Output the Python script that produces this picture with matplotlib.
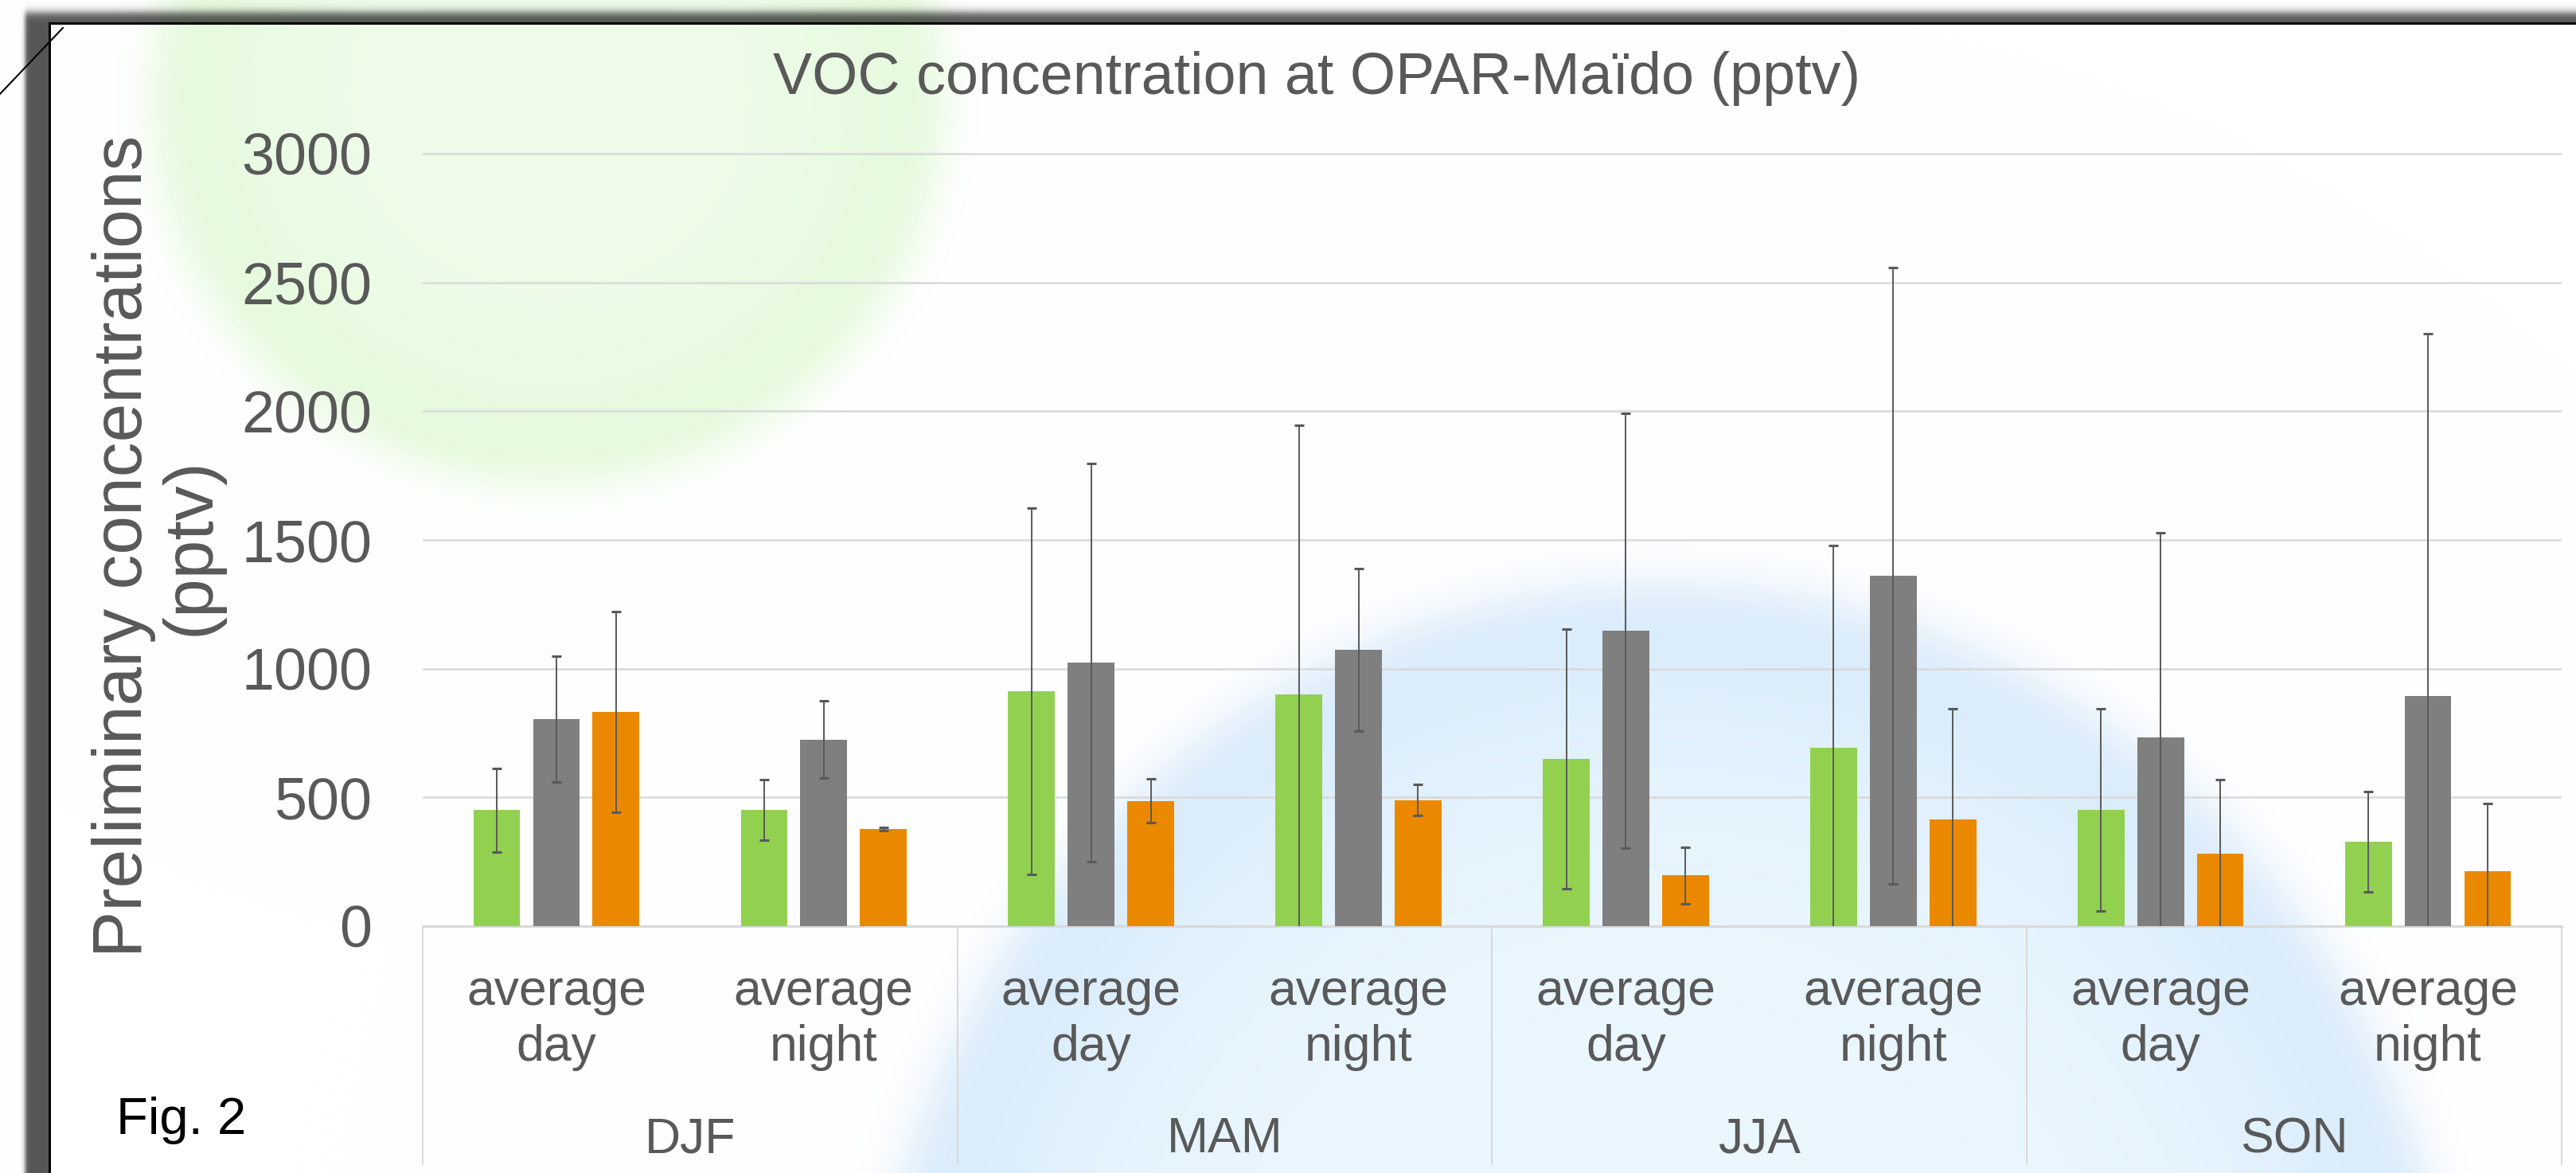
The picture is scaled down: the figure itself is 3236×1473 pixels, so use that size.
import numpy as np
import matplotlib.pyplot as plt
import matplotlib.transforms as mtransforms
from matplotlib.lines import Line2D

# data (pptv)
seasons = ['DJF', 'MAM', 'JJA', 'SON']
periods = ['average\nday', 'average\nnight']
green_vals = [451, 451, 913, 900, 650, 693, 452, 328]
green_err = [162, 117, 711, 1045, 504, 785, 393, 194]
gray_vals = [804, 724, 1025, 1074, 1148, 1361, 734, 895]
gray_err = [245, 150, 773, 316, 845, 1197, 795, 1405]
orange_vals = [831, 378, 486, 490, 197, 413, 282, 212]
orange_err = [390, 6, 85, 59, 109, 431, 287, 264]

W, H, DPI = 3237, 1473, 100
TXT = '#595959'
plt.rcParams['font.family'] = ['Liberation Sans', 'DejaVu Sans']

fig = plt.figure(figsize=(W / DPI, H / DPI), dpi=DPI)

# background: two pale bubbles + dark frame (drawn as an image)
yy, xx = np.mgrid[0:H, 0:W].astype(float)
img = np.ones((H, W, 3))


def bubble(img, cx, cy, rx, ry, edge, inner, soft):
    d = np.sqrt(((xx - cx) / rx) ** 2 + ((yy - cy) / ry) ** 2)
    a = 1.0 / (1.0 + np.exp(np.clip((d - 1.0) * rx / soft, -50, 50)))
    m = np.clip(d, 0, 1)[..., None] ** 4
    col = np.array(inner) / 255 * (1 - m) + np.array(edge) / 255 * m
    return img * (1 - a[..., None]) + col * a[..., None]


img = bubble(img, 688, 120, 490, 480, (224, 249, 214), (238, 252, 233), 18)
img = bubble(img, 2090, 1768, 990, 1030, (212, 232, 250), (236, 248, 255), 20)

sig = lambda v: 1.0 / (1.0 + np.exp(-v))
shade = sig((yy - 15) / 3.0) * sig((xx - 31) / 1.5)
shade *= ((yy < 29) | (xx < 62))
img = img * (1 - 0.66 * shade[..., None])
frame = ((yy >= 28) & (yy <= 30) & (xx >= 61)) | ((xx >= 61) & (xx <= 63) & (yy >= 28))
img[frame] = 0.0
fig.figimage(img, 0, 0, zorder=-10)

fig.add_artist(Line2D([0, 79 / W], [1 - 118 / H, 1 - 35 / H],
                      transform=fig.transFigure, color='black', lw=1.5))

# axes placed to match the reference plot area
ytop = 3010
px_per = 970 / 3000
ax = fig.add_axes([531 / W, (H - 1163) / H, (3218 - 531) / W, ytop * px_per / H])
ax.set_facecolor('none')

x = np.arange(8)
bw = 0.175
off = 0.223
series = [(green_vals, green_err, '#92D050'),
          (gray_vals, gray_err, '#7F7F7F'),
          (orange_vals, orange_err, '#EA8900')]
for k, (vals, errs, col) in enumerate(series):
    pos = x + (k - 1) * off
    ax.bar(pos, vals, bw, color=col, zorder=3)
    ax.errorbar(pos, vals, yerr=errs, fmt='none', ecolor=TXT,
                elinewidth=1.4, capsize=4.5, capthick=2.2, zorder=4)

ax.set_xlim(-0.5, 7.5)
ax.set_ylim(0, ytop)
ax.set_yticks(np.arange(0, 3001, 500))
ax.yaxis.grid(True, color='#D9D9D9', lw=1.8)
ax.set_axisbelow(True)
for s in ['top', 'right', 'left']:
    ax.spines[s].set_visible(False)
ax.spines['bottom'].set_color('#D9D9D9')
ax.spines['bottom'].set_linewidth(2.2)
ax.tick_params(axis='y', length=0, pad=46, labelsize=53, labelcolor=TXT)

ax.set_xticks(x, periods * 4)
ax.tick_params(axis='x', length=0, pad=38, labelsize=45, labelcolor=TXT)
for t in ax.get_xticklabels():
    t.set_linespacing(1.25)

trans = mtransforms.blended_transform_factory(ax.transData, ax.transAxes)
low = -299 / (ytop * px_per)
for xv in [-0.5, 1.5, 3.5, 5.5, 7.5]:
    ax.plot([xv, xv], [0, low], transform=trans, color='#D9D9D9',
            lw=1.4, clip_on=False)
for i, s in enumerate(seasons):
    ax.text(2 * i + 0.5, -284 / (ytop * px_per), s, transform=trans,
            ha='center', va='baseline', fontsize=45, color=TXT)

fig.text(1654 / W, 1 - 118 / H, 'VOC concentration at OPAR-Maïdo (pptv)',
         ha='center', va='baseline', fontsize=53, color=TXT)
fig.text(198 / W, 1 - 686 / H, 'Preliminary concentrations\n(pptv)',
         rotation=90, ha='center', va='center', fontsize=63, color=TXT,
         linespacing=1.06)
fig.text(146 / W, 1 - 1424 / H, 'Fig. 2', ha='left', va='baseline',
         fontsize=47, color='black')

fig.savefig('out.png', dpi=DPI)
